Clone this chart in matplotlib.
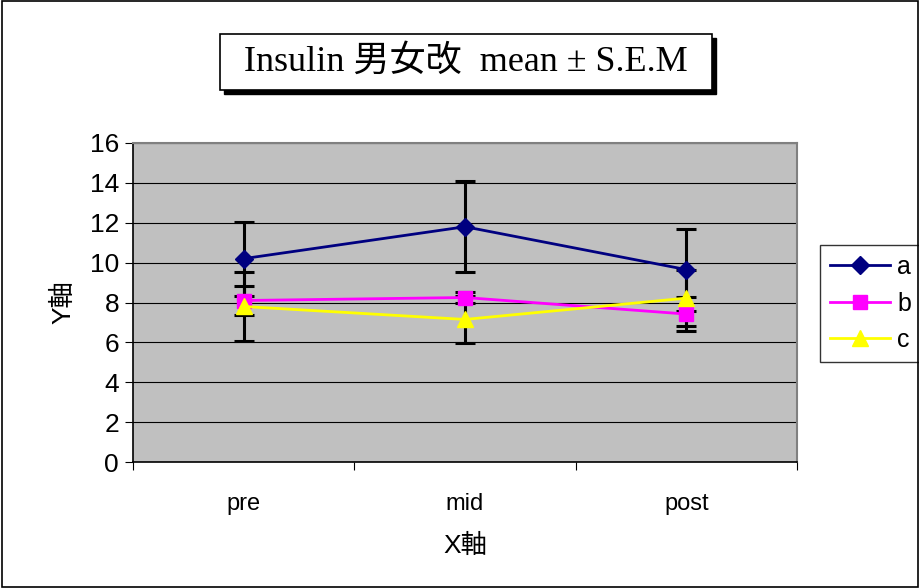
import numpy as np
import matplotlib.pyplot as plt
from matplotlib.patches import Rectangle

# data
cats = ['pre', 'mid', 'post']
a_mean = [10.2, 11.8, 9.65]
a_sem = [1.85, 2.29, 2.06]
b_mean = [8.1, 8.25, 7.42]
b_sem = [0.72, 0.3, 0.84]
c_mean = [7.8, 7.15, 8.22]
c_sem = [1.72, 1.17, 1.4]
yticks = [0, 2, 4, 6, 8, 10, 12, 14, 16]

plt.rcParams['font.family'] = ['Liberation Sans', 'Noto Sans CJK JP']

fig = plt.figure(figsize=(9.2, 5.88), dpi=100)
ax = fig.add_axes([133/920, 1-462/588, (797-133)/920, (462-143)/588])
ax.set_facecolor('#C0C0C0')

x = np.arange(len(cats))
series = [
    ('a', a_mean, a_sem, '#000080', 'D', 9),
    ('b', b_mean, b_sem, '#FF00FF', 's', 10),
    ('c', c_mean, c_sem, '#FFFF00', '^', 11),
]
for name, m, e, col, mk, ms in series:
    ax.errorbar(x, m, yerr=e, fmt='none', ecolor='black', elinewidth=2.2,
                capsize=7, capthick=2.2, zorder=3)
for name, m, e, col, mk, ms in series:
    ax.plot(x, m, color=col, marker=mk, markersize=ms, linewidth=2,
            label=name, zorder=4)

ax.set_xlim(-0.5, 2.5)
ax.set_ylim(0, 16)
ax.set_yticks(yticks)
ax.yaxis.grid(True, color='black', linewidth=0.8)
ax.set_axisbelow(True)
ax.set_xticks([-0.5, 0.5, 1.5, 2.5])
ax.set_xticklabels([])
ax.set_xticks(x, minor=True)
ax.set_xticklabels(cats, minor=True, fontsize=17)
ax.tick_params(axis='x', which='minor', length=0, pad=22)
ax.tick_params(axis='x', which='major', direction='out', length=6, color='black')
ax.tick_params(axis='y', direction='out', length=6, labelsize=19, pad=4)
for s in ['top', 'right']:
    ax.spines[s].set_color('#808080')
    ax.spines[s].set_linewidth(1.5)
for s in ['left', 'bottom']:
    ax.spines[s].set_color('black')
    ax.spines[s].set_linewidth(1.2)

ax.set_xlabel('X軸', fontsize=19, labelpad=14)
ax.set_ylabel('Y軸', fontsize=19, labelpad=10)

leg = ax.legend(loc='upper left', bbox_to_anchor=(820/920, 1-245/588),
                bbox_transform=fig.transFigure, fontsize=18, frameon=True,
                fancybox=False, edgecolor='black', handlelength=2.4,
                borderpad=0.4, labelspacing=0.5, handletextpad=0.3,
                borderaxespad=0)
leg.get_frame().set_linewidth(1.0)

# title with box and shadow
fig.patches.append(Rectangle((224/920, 1-94/588), 492/920, 56/588,
                             transform=fig.transFigure, facecolor='black',
                             edgecolor='black', zorder=1))
fig.patches.append(Rectangle((220/920, 1-90/588), 492/920, 56/588,
                             transform=fig.transFigure, facecolor='white',
                             edgecolor='black', linewidth=1.2, zorder=2))
fig.text(466/920, 1-62/588, 'Insulin 男女改  mean ± S.E.M', ha='center', va='center',
         fontsize=26, family=['Liberation Serif', 'Noto Sans CJK JP'], zorder=3)

# outer frame
fig.patches.append(Rectangle((0.002, 0.002), 0.996, 0.996, transform=fig.transFigure,
                             facecolor='none', edgecolor='black', linewidth=1.2))

fig.savefig('out.png', dpi=100)
